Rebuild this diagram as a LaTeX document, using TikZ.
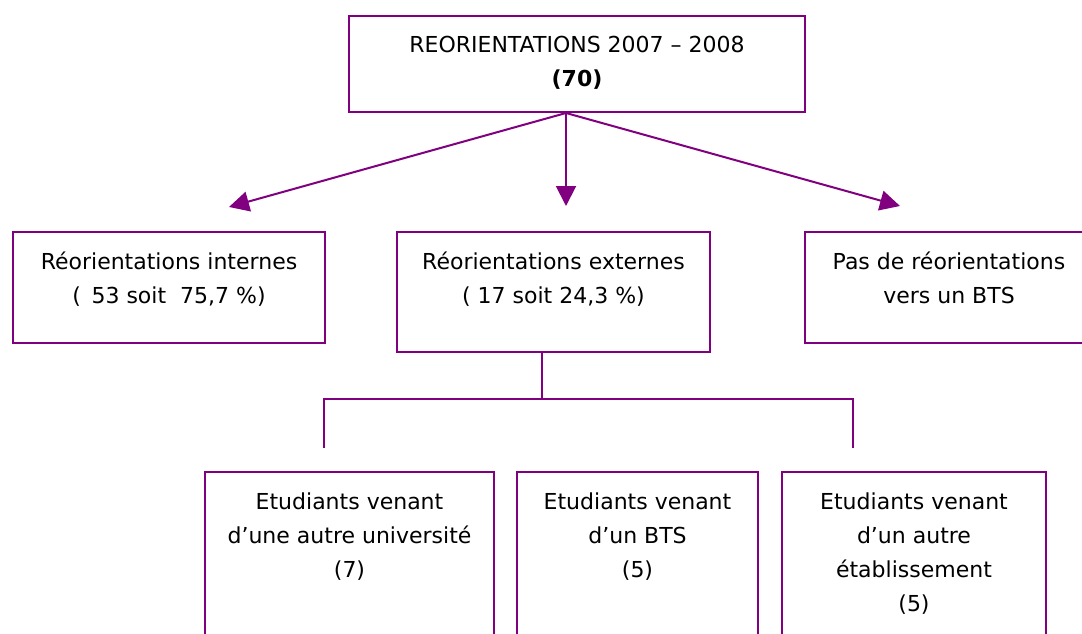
\documentclass[tikz,border=0pt]{standalone}
\usepackage{fontspec}
\setmainfont{DejaVu Sans}
\usetikzlibrary{arrows.meta}
\definecolor{vio}{RGB}{128,0,128}
\newcommand{\bxt}[3]{\parbox[c][#2][t]{#1}{\centering\rule{0pt}{37pt}#3\par}}
\tikzset{
  box/.style={draw=vio, line width=2pt, inner sep=0pt, anchor=north west,
              font=\fontsize{22}{34}\selectfont},
  conn/.style={draw=vio, line width=2pt},
  arr/.style={draw=vio, line width=2pt, -{Triangle[length=20pt,width=20pt]}, fill=vio}
}
\begin{document}
\begin{tikzpicture}[x=1pt,y=-1pt]
\path[use as bounding box] (0,0) rectangle (1082,634);
\clip (0,0) rectangle (1082,634);
\fill[white] (0,0) rectangle (1082,634);

\node[box] (top) at (348,15) {\bxt{456pt}{96pt}{REORIENTATIONS 2007 – 2008\\\textbf{(70)}}};

\node[box] (int) at (12,231) {\bxt{312pt}{111pt}{Réorientations internes\\(\ \,53 soit \ 75,7 \%)}};
\node[box] (ext) at (396,231) {\bxt{313pt}{120pt}{Réorientations externes\\( 17 soit 24,3 \%)}};
\node[box] (bts) at (804,231) {\bxt{288pt}{111pt}{Pas de réorientations\\vers un BTS}};

\node[box] (univ) at (204,471) {\bxt{289pt}{190pt}{Etudiants venant\\d’une autre université\\(7)}};
\node[box] (vbts) at (516,471) {\bxt{241pt}{190pt}{Etudiants venant\\d’un BTS\\(5)}};
\node[box] (etab) at (781,471) {\bxt{264pt}{190pt}{Etudiants venant\\d’un autre\\établissement\\(5)}};

\coordinate (o) at ([xshift=-11pt]top.south);
\coordinate (tl) at (229,207);
\coordinate (tm) at (o |- 0,206);
\coordinate (tr) at (900,206);
\draw[arr] (o) -- (tl);
\draw[arr] (o) -- (tm);
\draw[arr] (o) -- (tr);

\coordinate (s) at ([xshift=-11.5pt]ext.south);
\coordinate (j) at (s |- 0,399);
\coordinate (h1) at (324,399);
\coordinate (h2) at (853,399);
\coordinate (d1) at (324,448);
\coordinate (d2) at (853,448);
\draw[conn] (s) -- (j);
\draw[conn] (d1) -- (h1) -- (h2) -- (d2);
\end{tikzpicture}
\end{document}
